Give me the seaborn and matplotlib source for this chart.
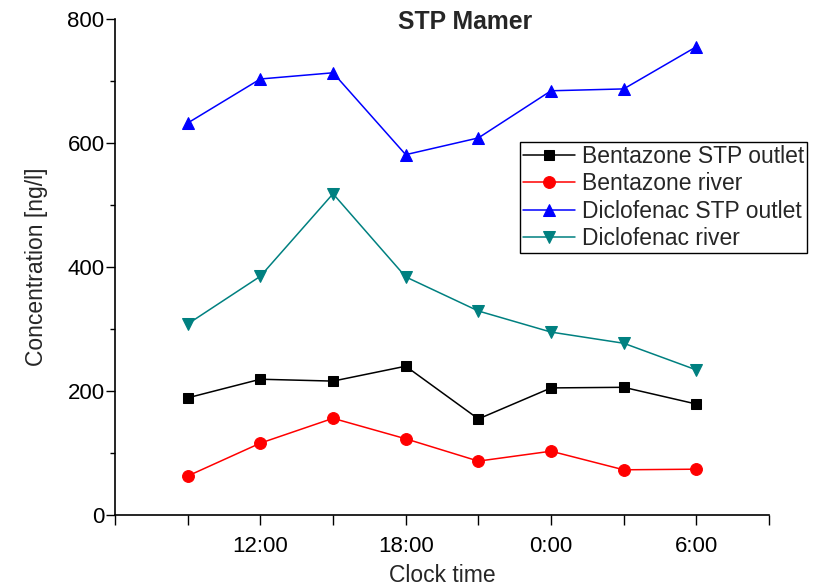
import pandas as pd
import numpy as np
import matplotlib
matplotlib.use("Agg")
import matplotlib.pyplot as plt
import seaborn as sns

# sampling hours (9:00 day 1 .. 6:00 day 2), 24+ means next day
hours = [9, 12, 15, 18, 21, 24, 27, 30]
tick_hours = [12, 18, 24, 30]
tick_labels = ["12:00", "18:00", "0:00", "6:00"]

bentazone_stp = [189, 219, 216, 240, 155, 205, 206, 179]
bentazone_river = [63, 116, 156, 123, 87, 103, 73, 74]
diclofenac_stp = [632, 703, 713, 581, 608, 684, 687, 755]
diclofenac_river = [308, 385, 518, 384, 329, 295, 277, 234]

series = [
    ("Bentazone STP outlet", bentazone_stp, "black", "s", 7),
    ("Bentazone river", bentazone_river, "red", "o", 8.5),
    ("Diclofenac STP outlet", diclofenac_stp, "blue", "^", 8.5),
    ("Diclofenac river", diclofenac_river, "#008080", "v", 8.5),
]

sns.set_style("ticks")
plt.rcParams["font.family"] = ["Liberation Sans", "DejaVu Sans"]

fig = plt.figure(figsize=(8.17, 5.88), dpi=100)
ax = fig.add_axes([0.1408, 0.124, 0.8005, 0.844])

for name, vals, col, mk, ms in series:
    df = pd.DataFrame({"hour": hours, "conc": vals})
    sns.lineplot(data=df, x="hour", y="conc", ax=ax, color=col, marker=mk,
                 markersize=ms, markeredgecolor=col, linewidth=1.1, label=name)

ax.set_xlim(6, 33)
ax.set_ylim(0, 800)
ax.set_xticks(tick_hours)
ax.set_xticklabels(tick_labels)
ax.set_xticks([6, 9, 15, 21, 27, 33], minor=True)
ax.set_yticks([0, 200, 400, 600, 800])
ax.set_yticks([100, 300, 500, 700], minor=True)
ax.tick_params(which="both", direction="out", width=1, labelsize=16, colors="black")
ax.tick_params(axis="x", which="both", length=7, pad=8)
ax.tick_params(axis="y", which="major", length=6.5, pad=1)
ax.tick_params(axis="y", which="minor", length=3.6)
for s in ["top", "right"]:
    ax.spines[s].set_visible(False)
for s in ["left", "bottom"]:
    ax.spines[s].set_linewidth(1.2)
    ax.spines[s].set_color("black")

ax.set_xlabel("Clock time", fontsize=16.5, labelpad=5)
ax.set_ylabel("Concentration [ng/l]", fontsize=16.5, labelpad=14)
fig.text(0.569, 0.962, "STP Mamer", ha="center", va="center", fontsize=17.8, fontweight="bold")

leg = ax.legend(loc="upper left", bbox_to_anchor=(0.619, 0.752), fontsize=16.5,
                frameon=True, fancybox=False, edgecolor="black", framealpha=1,
                handlelength=2.25, handletextpad=0.3, borderpad=0.15, labelspacing=0.18,
                borderaxespad=0)
leg.get_frame().set_linewidth(1)

fig.savefig("out.png", dpi=100)
